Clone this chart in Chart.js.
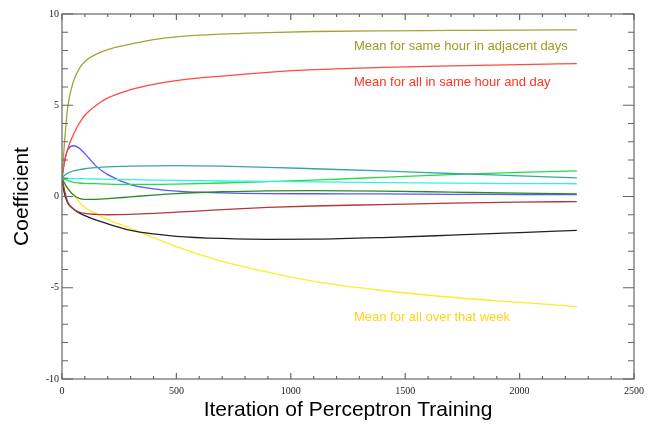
<!DOCTYPE html>
<html lang="en">
<head>
    <meta charset="UTF-8">
    <title>Perceptron Coefficients</title>
    <script src="https://cdn.jsdelivr.net/npm/chart.js"></script>
    <style>
        body {
            margin: 0;
            background: #fff;
        }
        canvas {
            display: block;
        }
    </style>
</head>
<body>
    <canvas id="coefChart" width="651" height="425"></canvas>

    <script>
        const iterations = [0, 10, 25, 50, 75, 100, 150, 200, 300, 400, 500, 700, 900, 1100, 1400, 1700, 2000, 2250];

        const sameHourAdjacent = [1.0, 2.8, 4.9, 6.3, 7.0, 7.4, 7.8, 8.05, 8.35, 8.6, 8.75, 8.9, 8.98, 9.04, 9.08, 9.1, 9.12, 9.13];
        const sameHourDay      = [1.0, 1.8, 2.6, 3.4, 4.0, 4.45, 5.0, 5.4, 5.85, 6.15, 6.35, 6.6, 6.8, 6.95, 7.07, 7.16, 7.23, 7.28];
        const blueCoef         = [1.0, 1.9, 2.55, 2.78, 2.65, 2.35, 1.65, 1.2, 0.65, 0.42, 0.3, 0.2, 0.16, 0.15, 0.14, 0.12, 0.11, 0.1];
        const tealCoef         = [1.0, 1.15, 1.28, 1.4, 1.47, 1.52, 1.58, 1.62, 1.66, 1.68, 1.69, 1.66, 1.6, 1.52, 1.4, 1.26, 1.13, 1.02];
        const cyanCoef         = [1.0, 1.0, 0.99, 0.98, 0.98, 0.97, 0.96, 0.94, 0.92, 0.9, 0.88, 0.85, 0.83, 0.8, 0.76, 0.73, 0.71, 0.7];
        const greenCoef        = [1.0, 0.95, 0.88, 0.78, 0.74, 0.72, 0.7, 0.68, 0.66, 0.66, 0.68, 0.74, 0.82, 0.9, 1.05, 1.2, 1.32, 1.4];
        const darkGreenCoef    = [1.0, 0.75, 0.45, 0.08, -0.1, -0.16, -0.16, -0.12, -0.02, 0.08, 0.16, 0.26, 0.31, 0.32, 0.3, 0.24, 0.18, 0.14];
        const darkRedCoef      = [1.0, 0.4, -0.3, -0.68, -0.85, -0.93, -0.98, -1.0, -0.98, -0.93, -0.86, -0.72, -0.6, -0.52, -0.44, -0.36, -0.31, -0.28];
        const blackCoef        = [1.0, 0.2, -0.35, -0.68, -0.9, -1.05, -1.3, -1.5, -1.85, -2.05, -2.18, -2.3, -2.35, -2.34, -2.25, -2.12, -1.98, -1.86];
        const weekMean         = [1.0, 0.7, 0.45, 0.1, -0.3, -0.6, -0.95, -1.25, -1.75, -2.25, -2.75, -3.55, -4.15, -4.65, -5.15, -5.52, -5.8, -6.03];

        const xTicks = [0, 500, 1000, 1500, 2000, 2500];
        const yTicks = [-10, -5, 0, 5, 10];

        // in-plot labels
        const noteText = ['Mean for same hour in adjacent days', 'Mean for all in same hour and day', 'Mean for all over that week'];
        const noteX = [1276, 1276, 1276];
        const noteY = [8.25, 6.25, -6.6];
        const noteColor = ['#9c9c22', '#ff3322', '#ffd21a'];

        function series(values, color) {
            return {
                data: iterations.map((x, i) => ({ x: x, y: values[i] })),
                borderColor: color,
                borderWidth: 1.3,
                pointRadius: 0,
                fill: false,
                cubicInterpolationMode: 'monotone'
            };
        }

        // box with inward ticks on all four sides
        const boxTicks = {
            id: 'boxTicks',
            afterDatasetsDraw(chart) {
                const ctx = chart.ctx;
                const xs = chart.scales.x, ys = chart.scales.y;
                const a = chart.chartArea;
                ctx.save();
                ctx.strokeStyle = '#666';
                ctx.lineWidth = 1.2;
                ctx.strokeRect(a.left, a.top, a.right - a.left, a.bottom - a.top);
                ctx.beginPath();
                for (let v = 0; v <= 2500; v += 100) {
                    const px = xs.getPixelForValue(v);
                    const len = v % 500 === 0 ? 6 : 3;
                    ctx.moveTo(px, a.bottom); ctx.lineTo(px, a.bottom - len);
                    ctx.moveTo(px, a.top); ctx.lineTo(px, a.top + len);
                }
                for (let v = -10; v <= 10; v += 1) {
                    const py = ys.getPixelForValue(v);
                    const len = v % 5 === 0 ? 11 : 6;
                    ctx.moveTo(a.left, py); ctx.lineTo(a.left + len, py);
                    ctx.moveTo(a.right, py); ctx.lineTo(a.right - len, py);
                }
                ctx.stroke();

                ctx.font = '13px "Liberation Sans", Arial, sans-serif';
                ctx.textAlign = 'left';
                ctx.textBaseline = 'middle';
                noteText.forEach((t, i) => {
                    ctx.fillStyle = noteColor[i];
                    ctx.fillText(t, xs.getPixelForValue(noteX[i]), ys.getPixelForValue(noteY[i]));
                });
                ctx.restore();
            }
        };

        const tickFont = { family: '"Liberation Serif", "Times New Roman", serif', size: 10 };
        const titleFont = { family: '"Liberation Sans", Arial, sans-serif', size: 21 };

        new Chart(document.getElementById('coefChart'), {
            type: 'line',
            data: {
                datasets: [
                    series(sameHourAdjacent, '#a3a33a'),
                    series(sameHourDay, '#ff4a40'),
                    series(tealCoef, '#3aa5a5'),
                    series(cyanCoef, '#33f0f0'),
                    series(greenCoef, '#22dd44'),
                    series(darkGreenCoef, '#2a8a2a'),
                    series(blueCoef, '#5a55ff'),
                    series(darkRedCoef, '#b03a3a'),
                    series(blackCoef, '#222222'),
                    series(weekMean, '#f4f02a')
                ]
            },
            options: {
                responsive: false,
                animation: false,
                devicePixelRatio: 1,
                layout: { padding: { top: 14, right: 17, left: 0, bottom: 0 } },
                plugins: {
                    legend: { display: false },
                    tooltip: { enabled: false }
                },
                scales: {
                    x: {
                        type: 'linear',
                        min: 0,
                        max: 2500,
                        afterBuildTicks: s => { s.ticks = xTicks.map(v => ({ value: v })); },
                        afterFit: s => { s.height = 46; },
                        grid: { display: false, drawTicks: false },
                        border: { display: false },
                        ticks: { font: tickFont, color: '#222', padding: 6, maxRotation: 0, callback: v => String(v) },
                        title: { display: true, text: 'Iteration of Perceptron Training', font: titleFont, color: '#000', padding: { top: 0, bottom: 2 } }
                    },
                    y: {
                        min: -10,
                        max: 10,
                        afterBuildTicks: s => { s.ticks = yTicks.map(v => ({ value: v })); },
                        afterFit: s => { s.width = 62; },
                        grid: { display: false, drawTicks: false },
                        border: { display: false },
                        ticks: { font: tickFont, color: '#222', padding: 3, callback: v => String(v) },
                        title: { display: true, text: 'Coefficient', font: titleFont, color: '#000', padding: { top: 10, bottom: 0 } }
                    }
                }
            },
            plugins: [boxTicks]
        });
    </script>
</body>
</html>
